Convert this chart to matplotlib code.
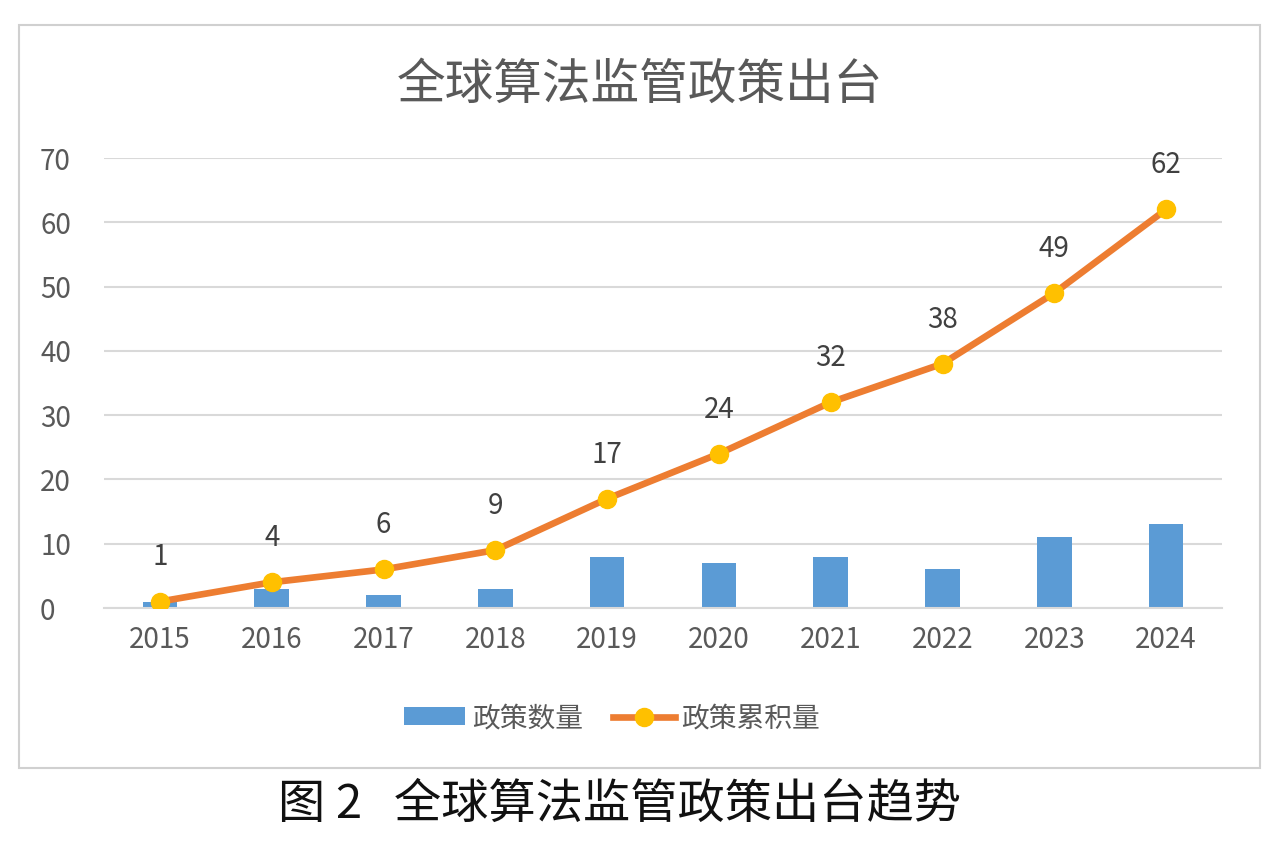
import numpy as np
import matplotlib.pyplot as plt
from matplotlib.patches import Rectangle

plt.rcParams['font.family'] = ['Noto Sans CJK SC', 'DejaVu Sans']

years = ['2015', '2016', '2017', '2018', '2019', '2020', '2021', '2022', '2023', '2024']
policy_count = [1, 3, 2, 3, 8, 7, 8, 6, 11, 13]
policy_total = [1, 4, 6, 9, 17, 24, 32, 38, 49, 62]

W, H = 1284, 846
fig = plt.figure(figsize=(W / 100, H / 100), dpi=100)
fig.patch.set_facecolor('white')

# grey frame around the chart
fig.add_artist(Rectangle((19 / W, 1 - 768 / H), (1260 - 19) / W, (768 - 25) / H,
                         transform=fig.transFigure, fill=False,
                         edgecolor='#d0d0d0', linewidth=1.5))

ax = fig.add_axes([104 / W, 1 - 608 / H, (1222 - 104) / W, (608 - 158) / H])
x = np.arange(len(years))

bars = ax.bar(x, policy_count, width=0.31, color='#5B9BD5', label='政策数量', zorder=2)
line, = ax.plot(x, policy_total, color='#ED7D31', linewidth=4.8, marker='o',
                markersize=13, markerfacecolor='#FFC000', markeredgecolor='#FFC000',
                label='政策累积量', zorder=3)

for i, v in enumerate(policy_total):
    ax.annotate(str(v), (x[i], v), xytext=(0, 21), textcoords='offset points',
                ha='center', va='bottom', fontsize=20, color='#404040')

ax.set_xlim(-0.5, len(years) - 0.5)
ax.set_ylim(0, 70)
ax.set_yticks(range(0, 71, 10))
ax.set_xticks(x)
ax.set_xticklabels(years)
ax.yaxis.grid(True, color='#d9d9d9', linewidth=1.5, zorder=0)
ax.set_axisbelow(True)
for s in ['top', 'right', 'left']:
    ax.spines[s].set_visible(False)
ax.spines['bottom'].set_color('#d9d9d9')
ax.spines['bottom'].set_linewidth(1.5)
ax.tick_params(axis='both', length=0, labelsize=20, labelcolor='#595959')
ax.tick_params(axis='y', pad=46)
ax.tick_params(axis='x', pad=12)
for lbl in ax.get_yticklabels():
    lbl.set_horizontalalignment('left')
ax.set_facecolor('white')

fig.text(640 / W, 1 - 85 / H, '全球算法监管政策出台', ha='center', va='center',
         fontsize=35, color='#595959')

fig.legend([bars, line], ['政策数量', '政策累积量'], loc='center',
           bbox_to_anchor=(612 / W, 1 - 718 / H), ncol=2,
           frameon=False, fontsize=20, labelcolor='#595959',
           handlelength=2.2, handleheight=0.6, columnspacing=1.1,
           handletextpad=0.25)

fig.text(620 / W, 1 - 805 / H, '图 2   全球算法监管政策出台趋势', ha='center',
         va='center', fontsize=34, color='#111111')

fig.savefig('out.png', dpi=100)
